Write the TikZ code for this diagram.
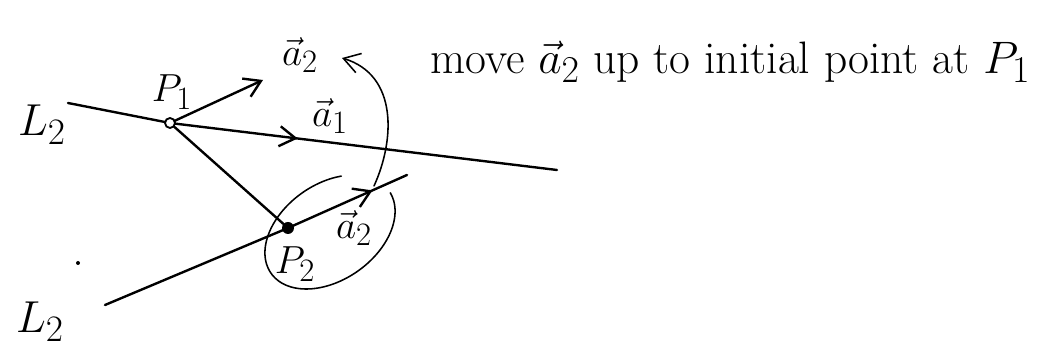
\documentclass[tikz,border=0pt]{standalone}
\usetikzlibrary{arrows.meta,decorations.markings}
\begin{document}
\begin{tikzpicture}[x=0.025cm, y=-0.025cm,
      reta/.style={line width=1.7pt, line cap=round},
      fina/.style={line width=1.1pt, line cap=round},
      seta/.style={-{Straight Barb[length=4mm, width=5mm]}},
      meio/.style={postaction=decorate, decoration={markings,
                   mark=at position #1 with {\arrow{Straight Barb[length=4mm, width=5mm]}}}},
      rot/.style={font=\Huge, scale=1.12},
      every node/.style={inner sep=0pt}]
    \useasboundingbox (0,0) rectangle (1041,352);
    % pontos das retas
    \coordinate (P1)  at (170,123);
    \coordinate (P2)  at (288,228);
    \coordinate (l1a) at (68,103);
    \coordinate (l1b) at (557,170);
    \coordinate (l2a) at (105,305);
    \coordinate (l2b) at (407,175);
    \coordinate (d2)  at (263,80);
    \coordinate (ini) at (374,186);
    \coordinate (fim) at (342,58);
    % retas L
    \draw[reta] (l1a) -- (P1);
    \draw[reta, meio=0.33] (P1) -- (l1b);
    \draw[reta] (l2a) -- (P2);
    \draw[reta, meio=0.71] (P2) -- (l2b);
    \draw[reta] (P1) -- (P2);
    \draw[reta, seta] (P1) -- (d2);
    \draw[line width=1.3pt, fill=white] (P1) circle[radius=5];
    \fill (P2) circle[radius=6];
    \fill (78,263) circle[radius=2];
    % laco em volta de P2
    \draw[fina] plot[domain=3:305, samples=60, smooth, variable=\t]
      ({330+72*cos(\t)*cos(35)+48*sin(\t)*sin(35)},
       {232-72*cos(\t)*sin(35)+48*sin(\t)*cos(35)});
    \draw[fina, seta] (ini) .. controls (395,140) and (398,75) .. (fim);
    % rotulos
    \node[font=\Huge, scale=1.28] (L1) at (42,125) {$L_2$};
    \node[font=\Huge, scale=1.28] (L2) at (40,322) {$L_2$};
    \node[rot] (tP1) at (172,92)  {$P_1$};
    \node[rot] (tP2) at (295,264) {$P_2$};
    \node[rot] (ta1) at (330,116) {$\vec{a}_1$};
    \node[rot] (ta2) at (300,55)  {$\vec{a}_2$};
    \node[rot] (tb2) at (354,228) {$\vec{a}_2$};
    \node[font=\Huge, scale=1.3, anchor=base west] (msg) at (430,74)
      {move $\vec{a}_2$ up to initial point at $P_1$};
  \end{tikzpicture}
\end{document}
